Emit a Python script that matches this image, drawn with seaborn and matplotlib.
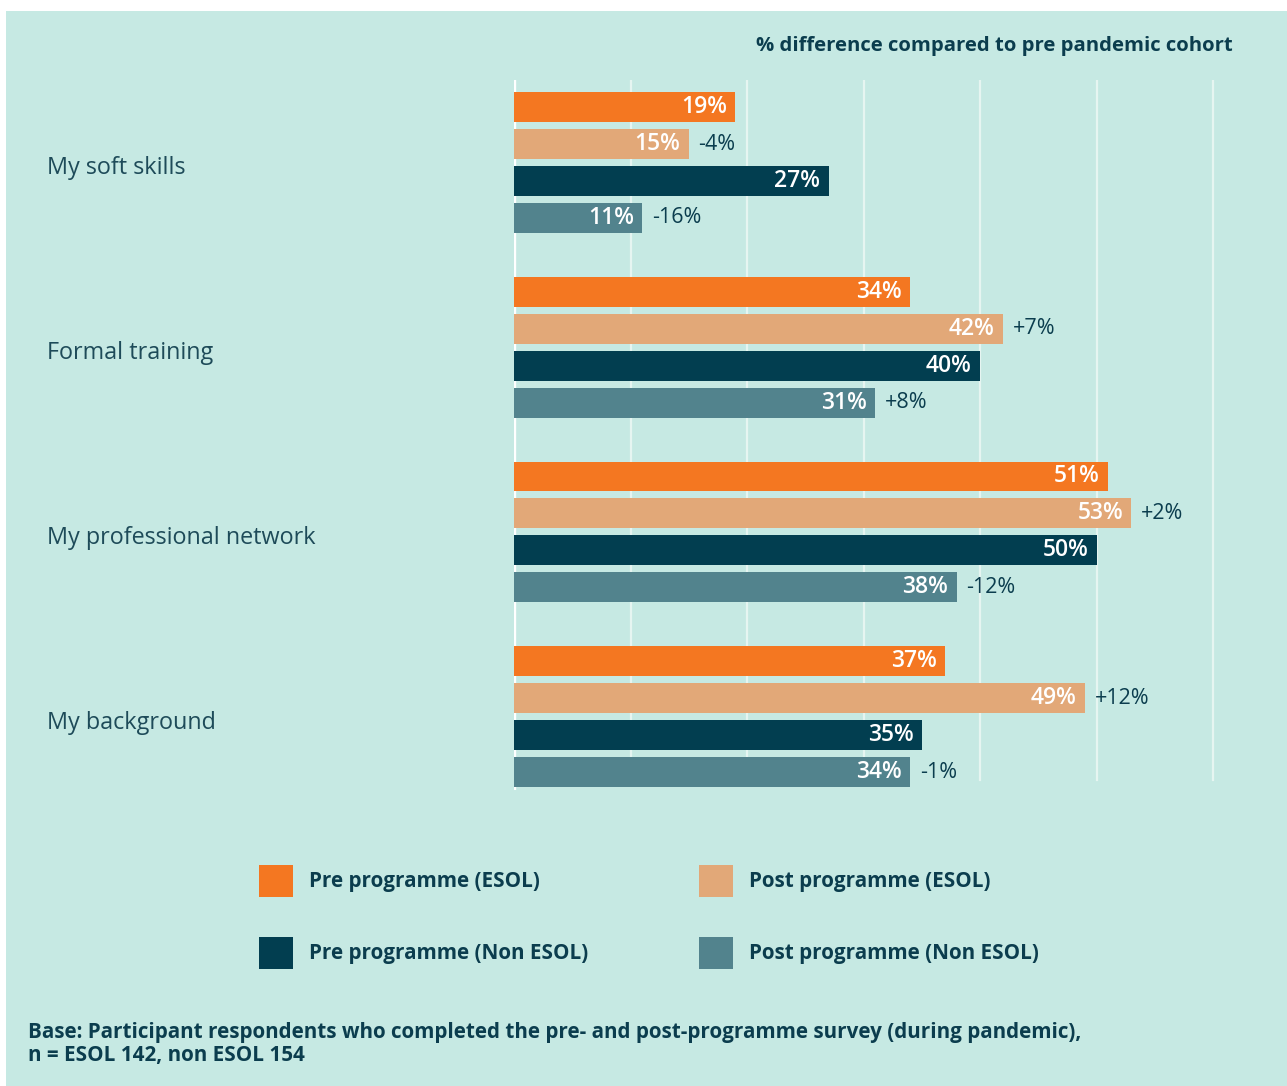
import matplotlib
matplotlib.use("Agg")
import matplotlib.pyplot as plt
from matplotlib.patches import Rectangle
import matplotlib.transforms as mtransforms
import seaborn as sns
import pandas as pd

# ---------------- data ----------------
categories = ["My soft skills", "Formal training", "My professional network", "My background"]
series = ["Pre programme (ESOL)", "Post programme (ESOL)",
          "Pre programme (Non ESOL)", "Post programme (Non ESOL)"]
pre_esol = [19, 34, 51, 37]
post_esol = [15, 42, 53, 49]
pre_non_esol = [27, 40, 50, 35]
post_non_esol = [11, 31, 38, 34]
diff_post_esol = ["-4%", "+7%", "+2%", "+12%"]
diff_post_non_esol = ["-16%", "+8%", "-12%", "-1%"]
x_gridlines = [10, 20, 30, 40, 50, 60]

title = "% difference compared to pre pandemic cohort"
footnote = ("Base: Participant respondents who completed the pre- and post-programme survey (during pandemic),\n"
            "n = ESOL 142, non ESOL 154")

# ---------------- styling ----------------
BG = "#C6E9E3"
TXT = "#0B3D4E"
CAT_TXT = "#1E4B59"
colors = {series[0]: "#F47721", series[1]: "#E2A878",
          series[2]: "#023E50", series[3]: "#52838D"}

plt.rcParams["font.family"] = ["Open Sans", "DejaVu Sans"]

W, H = 1287, 1086
fig = plt.figure(figsize=(W / 100, H / 100), dpi=100)
fig.patch.set_facecolor("white")
fig.add_artist(Rectangle((6 / W, 0), 1 - 6 / W, (H - 11) / H, transform=fig.transFigure,
                         facecolor=BG, edgecolor="none", zorder=-10))

px_per_unit = 11.65
x_max = 62
ax_left, ax_top, ax_bottom = 514, 80, 790
ax = fig.add_axes([ax_left / W, (H - ax_bottom) / H, x_max * px_per_unit / W, (ax_bottom - ax_top) / H])
ax.set_facecolor("none")

rows = []
for cat, a, b, c, d in zip(categories, pre_esol, post_esol, pre_non_esol, post_non_esol):
    for s, v in zip(series, [a, b, c, d]):
        rows.append({"category": cat, "series": s, "value": v})
df = pd.DataFrame(rows)

sns.barplot(data=df, y="category", x="value", hue="series", order=categories, hue_order=series,
            palette=colors, orient="h", width=0.8, gap=0.19, dodge=True, legend=False,
            saturation=1, ax=ax, zorder=3)

group_px = 184.7
c0 = 162.5
ax.set_ylim((ax_bottom - c0) / group_px, -(c0 - ax_top) / group_px)
ax.set_xlim(0, x_max)

g_ymin = (ax_bottom - 780) / (ax_bottom - ax_top)
for gx in x_gridlines:
    ax.axvline(gx, ymin=g_ymin, ymax=1, color="#E6F5F1", lw=1.6, zorder=1)
ax.axvline(0, ymin=0.0, ymax=1, color="white", lw=2.4, zorder=2)

diffs = {1: diff_post_esol, 3: diff_post_non_esol}
for i, cont in enumerate(ax.containers):
    for j, rect in enumerate(cont.patches):
        w = rect.get_width()
        yc = rect.get_y() + rect.get_height() / 2
        ax.annotate(f"{int(round(w))}%", xy=(w, yc), xytext=(-6, 0), textcoords="offset points",
                    ha="right", va="center", color="white", fontsize=16.5, fontweight="semibold", zorder=5)
        if i in diffs:
            ax.annotate(diffs[i][j], xy=(w, yc), xytext=(7, 0), textcoords="offset points",
                        ha="left", va="center", color=TXT, fontsize=15.5, zorder=5)

ax.set_ylabel("")
ax.set_xlabel("")
ax.set_xticks([])
ax.tick_params(axis="y", length=0, pad=(ax_left - 47) / 100 * 72, labelsize=16.8, labelcolor=CAT_TXT)
shift = mtransforms.ScaledTranslation(0, -3 / 100, fig.dpi_scale_trans)
for lab in ax.get_yticklabels():
    lab.set_ha("left")
    lab.set_va("center_baseline")
    lab.set_transform(lab.get_transform() + shift)
for sp in ax.spines.values():
    sp.set_visible(False)

fig.text(1233 / W, 1 - 46 / H, title, ha="right", va="center", fontsize=14.6,
         fontweight="bold", color=TXT)

leg_pos = [(259, 865), (699, 865), (259, 937), (699, 937)]
for s, (lx, ly) in zip(series, leg_pos):
    fig.add_artist(Rectangle((lx / W, 1 - (ly + 32) / H), 34 / W, 32 / H, transform=fig.transFigure,
                             facecolor=colors[s], edgecolor="none"))
    fig.text((lx + 50) / W, 1 - (ly + 17) / H, s, ha="left", va="center", fontsize=14.9,
             fontweight="bold", color=TXT)

fig.text(28 / W, 1 - 1044 / H, footnote, ha="left", va="center", fontsize=14.9,
         fontweight="bold", color=TXT, linespacing=1.15)

fig.savefig("out.png", dpi=100, facecolor=fig.get_facecolor())
